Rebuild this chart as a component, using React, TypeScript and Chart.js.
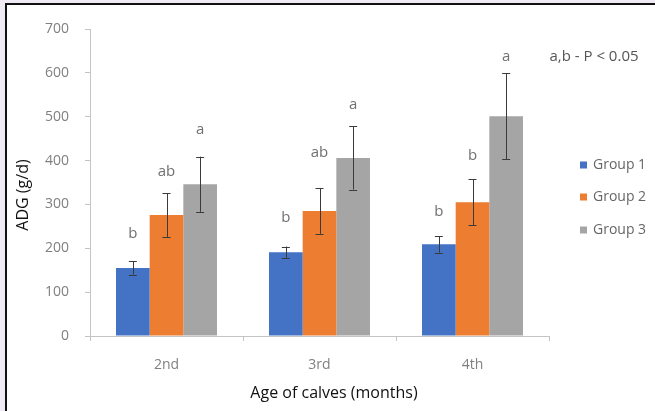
import React, { useEffect, useRef } from "react";
import { Chart, registerables } from "chart.js";
Chart.register(...registerables);

const categories = ["2nd", "3rd", "4th"];
const seriesNames = ["Group 1", "Group 2", "Group 3"];
const seriesColors = ["#4472C4", "#ED7D31", "#A5A5A5"];
const group1 = [155, 191, 209];
const group2 = [276, 285, 305];
const group3 = [346, 406, 501];
const group1Err = [15, 13, 19];
const group2Err = [50, 52, 52];
const group3Err = [63, 72, 98];
const group1Letters = ["b", "b", "b"];
const group2Letters = ["ab", "ab", "b"];
const group3Letters = ["a", "a", "a"];
const group1LetterPos = [233, 269, 283];
const group2LetterPos = [374, 417, 410];
const group3LetterPos = [470, 527, 636];
const yMin = 0;
const yMax = 700;
const yStep = 100;
const yTitle = "ADG (g/d)";
const xTitle = "Age of calves (months)";
const noteText = "a,b - P < 0.05";

const values = [group1, group2, group3];
const errors = [group1Err, group2Err, group3Err];
const letters = [group1Letters, group2Letters, group3Letters];
const letterPos = [group1LetterPos, group2LetterPos, group3LetterPos];

const FONT = "'Open Sans', 'DejaVu Sans', sans-serif";

const decorPlugin = {
  id: "decor",
  beforeDraw(chart: any) {
    const { ctx, width, height } = chart;
    ctx.save();
    ctx.fillStyle = "#f0eaf5";
    ctx.fillRect(0, 0, width, height);
    ctx.fillStyle = "#ffffff";
    ctx.fillRect(5, 3, width - 5, height - 3);
    ctx.fillStyle = "#111111";
    ctx.fillRect(5, 3, 2, height - 3);
    ctx.fillRect(5, 3, width - 5, 2);
    ctx.restore();
  },
  afterDatasetsDraw(chart: any) {
    const { ctx } = chart;
    const yScale = chart.scales.y;
    ctx.save();
    values.forEach((series, di) => {
      const meta = chart.getDatasetMeta(di);
      series.forEach((v, i) => {
        const bar = meta.data[i];
        const x = bar.x;
        const yTop = yScale.getPixelForValue(v + errors[di][i]);
        const yBot = yScale.getPixelForValue(v - errors[di][i]);
        ctx.strokeStyle = "#3a3a3a";
        ctx.lineWidth = 1;
        ctx.beginPath();
        ctx.moveTo(Math.round(x) + 0.5, yTop);
        ctx.lineTo(Math.round(x) + 0.5, yBot);
        ctx.moveTo(x - 4, Math.round(yTop) + 0.5);
        ctx.lineTo(x + 4, Math.round(yTop) + 0.5);
        ctx.moveTo(x - 4, Math.round(yBot) + 0.5);
        ctx.lineTo(x + 4, Math.round(yBot) + 0.5);
        ctx.stroke();
        ctx.fillStyle = "#707070";
        ctx.font = `15px ${FONT}`;
        ctx.textAlign = "center";
        ctx.textBaseline = "middle";
        ctx.fillText(letters[di][i], x, yScale.getPixelForValue(letterPos[di][i]));
      });
    });
    ctx.restore();
  },
  afterDraw(chart: any) {
    const { ctx } = chart;
    ctx.save();
    // legend
    ctx.font = `14px ${FONT}`;
    ctx.textBaseline = "middle";
    ctx.textAlign = "left";
    const legendY = [165, 197, 230];
    seriesNames.forEach((name, i) => {
      ctx.fillStyle = seriesColors[i];
      ctx.fillRect(580, legendY[i] - 3.5, 7, 7);
      ctx.fillStyle = "#666666";
      ctx.fillText(name, 593, legendY[i]);
    });
    // note
    ctx.fillStyle = "#555555";
    ctx.font = `15px ${FONT}`;
    ctx.textAlign = "center";
    ctx.fillText(noteText, 594, 57);
    // axis titles
    ctx.fillStyle = "#111111";
    ctx.font = `16px ${FONT}`;
    ctx.fillText(xTitle, 334, 393);
    ctx.translate(23, 195);
    ctx.rotate(-Math.PI / 2);
    ctx.fillText(yTitle, 0, 0);
    ctx.restore();
  },
};

export default function App() {
  const ref = useRef<HTMLCanvasElement>(null);
  useEffect(() => {
    if (!ref.current) return;
    const chart = new Chart(ref.current, {
      type: "bar",
      data: {
        labels: categories,
        datasets: values.map((d, i) => ({
          label: seriesNames[i],
          data: d,
          backgroundColor: seriesColors[i],
          borderWidth: 0,
          barPercentage: 1,
          categoryPercentage: 0.66,
        })),
      },
      options: {
        responsive: false,
        animation: false,
        devicePixelRatio: 1,
        layout: { padding: { top: 29, right: 106, left: 0, bottom: 0 } },
        plugins: { legend: { display: false }, tooltip: { enabled: false } },
        scales: {
          x: {
            afterFit: (s: any) => { s.height = 75; },
            border: { display: true, color: "#c4c4c4" },
            grid: { drawOnChartArea: false, drawTicks: true, tickLength: 5, color: "#c4c4c4" },
            ticks: { color: "#808080", padding: 16, font: { family: FONT, size: 14 } },
          },
          y: {
            min: yMin,
            max: yMax,
            afterFit: (s: any) => { s.width = 90; },
            border: { display: true, color: "#c4c4c4" },
            grid: { drawOnChartArea: false, drawTicks: true, tickLength: 5, color: "#c4c4c4" },
            ticks: { stepSize: yStep, color: "#808080", padding: 16, font: { family: FONT, size: 14 } },
          },
        },
      },
      plugins: [decorPlugin],
    });
    return () => chart.destroy();
  }, []);
  return (
    <div style={{ position: "absolute", left: 0, top: 0, width: 655, height: 411 }}>
      <canvas ref={ref} width={655} height={411} style={{ display: "block" }} />
    </div>
  );
}
